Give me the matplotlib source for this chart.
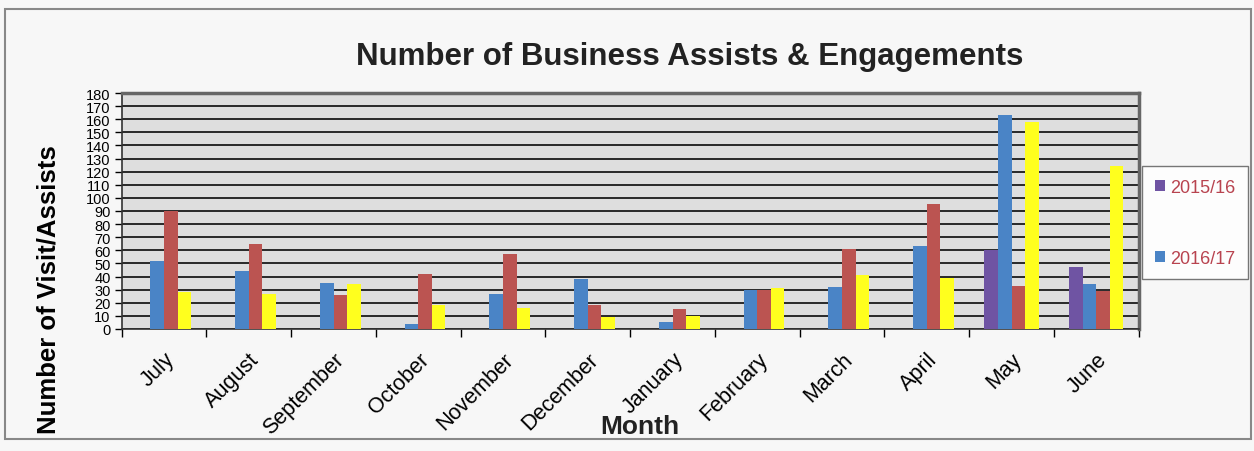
import numpy as np
import matplotlib
matplotlib.use("Agg")
import matplotlib.pyplot as plt
from matplotlib.patches import Rectangle

plt.rcParams['font.family'] = ['Liberation Sans', 'DejaVu Sans']

months = ["July", "August", "September", "October", "November", "December",
          "January", "February", "March", "April", "May", "June"]

# values (only the first two series are named in the legend)
s_2015_16 = [0, 0, 0, 0, 0, 0, 0, 0, 0, 0, 60, 47]
s_2016_17 = [52, 44, 35, 4, 27, 38, 5, 30, 32, 63, 163, 34]
s_red = [90, 65, 26, 42, 57, 18, 15, 30, 61, 95, 33, 29]
s_yellow = [28, 27, 34, 18, 16, 9, 10, 31, 41, 39, 158, 124]

series_names = ["2015/16", "2016/17", None, None]
colors = ["#6f54a3", "#4a84c6", "#bb5451", "#ffff1e"]

fig = plt.figure(figsize=(12.54, 4.52), dpi=100, facecolor="#f7f7f7")
ax = fig.add_axes([0.097, 0.27, 0.811, 0.522])
ax.set_facecolor("#dedede")

x = np.arange(len(months))
w = 0.16
all_series = [s_2015_16, s_2016_17, s_red, s_yellow]
handles = []
for i, (vals, name, c) in enumerate(zip(all_series, series_names, colors)):
    b = ax.bar(x + (i - 1.5) * w, vals, width=w, color=c, linewidth=0, zorder=3)
    if name is not None:
        handles.append((b, name))

ax.set_xlim(-0.5, len(months) - 0.5)
ax.set_ylim(0, 180)
ax.set_yticks(np.arange(0, 181, 10))
ax.tick_params(axis='y', labelsize=10.5, length=5, width=1, pad=3)
ax.yaxis.grid(True, color="#1a1a1a", linewidth=1.3, zorder=0)
ax.set_axisbelow(True)

ax.set_xticks(x)
ax.set_xticklabels(months, rotation=45, ha='right', rotation_mode='anchor', fontsize=15.5)
ax.set_xticks(np.arange(-0.5, len(months), 1), minor=True)
ax.tick_params(axis='x', which='major', length=0, pad=14)
ax.tick_params(axis='x', which='minor', length=6, width=1)

for side in ["left", "bottom"]:
    ax.spines[side].set_color("#333333")
    ax.spines[side].set_linewidth(1.2)
for side in ["top", "right"]:
    ax.spines[side].set_color("#666666")
    ax.spines[side].set_linewidth(2.5)

ax.set_ylabel("Number of Visit/Assists", fontsize=18.5, fontweight='bold')
ax.yaxis.set_label_coords(-0.06, 0.17)

fig.text(0.55, 0.875, "Number of Business Assists & Engagements", ha='center', va='center',
         fontsize=22.5, fontweight='bold', color="#222222")
fig.text(0.51, 0.055, "Month", ha='center', va='center', fontsize=19, fontweight='bold',
         color="#222222")

leg = fig.legend([h for h, _ in handles], [n for _, n in handles],
                 loc='center left', bbox_to_anchor=(0.911, 0.505), fontsize=13,
                 frameon=True, fancybox=False, edgecolor="#555555", facecolor="white",
                 handlelength=0.55, handleheight=0.55, labelspacing=3.0,
                 borderpad=0.7, handletextpad=0.3, borderaxespad=0.0)
for t in leg.get_texts():
    t.set_color("#b8434f")

# outer chart border
fig.patches.append(Rectangle((0.004, 0.027), 0.994, 0.95, transform=fig.transFigure,
                             fill=False, edgecolor="#888888", linewidth=1.5))

fig.savefig("out.png", dpi=100, facecolor=fig.get_facecolor())
